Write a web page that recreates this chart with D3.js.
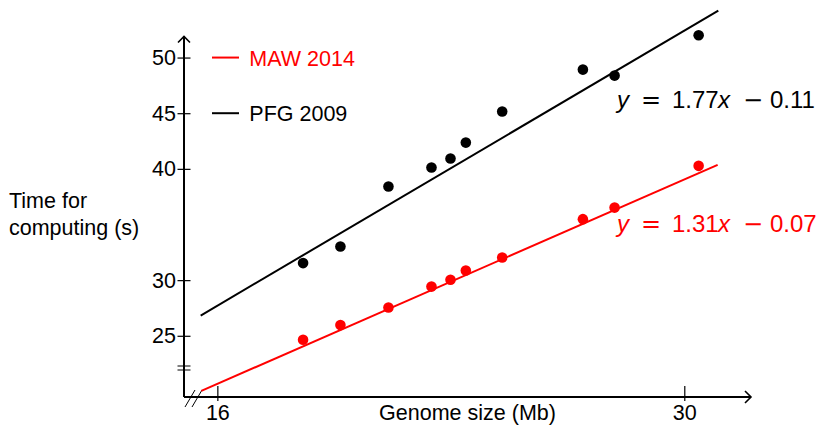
<!DOCTYPE html>
<html>
<head>
<meta charset="utf-8">
<script src="https://cdn.jsdelivr.net/npm/d3@7"></script>
<style>
  body { margin: 0; background: #fff; }
  svg text { font-family: "Liberation Sans", Arial, sans-serif; }
</style>
</head>
<body>
<svg id="chart" width="820" height="429"></svg>
<script>
// genome size (Mb) and computing time (s)
const genomeSize = [18.57, 19.69, 21.13, 22.42, 22.99, 23.45, 24.54, 26.96, 27.91, 30.43];
const pfg2009 = [31.53, 33.02, 38.41, 40.12, 40.93, 42.36, 45.15, 48.92, 48.38, 52.01];
const maw2014 = [24.64, 25.96, 27.54, 29.42, 30.03, 30.86, 32.03, 35.48, 36.52, 40.27];

// fitted lines (end points)
const pfgFit = [[15.5, 26.82], [31.02, 54.22]];
const mawFit = [[15.52, 20.05], [31.0, 40.36]];

const xTicks = [16, 30];
const yTicks = [25, 30, 40, 45, 50];

const seriesNames = ["MAW 2014", "PFG 2009"];
const seriesColors = ["#ff0000", "#000000"];
const equations = [
  ["y", "=", "1.31", "x", "\u2212", "0.07"],
  ["y", "=", "1.77", "x", "\u2212", "0.11"]
];

const svg = d3.select("#chart");
const x = d3.scaleLinear().domain([15, 32]).range([184, 751]);
const y = d3.scaleLinear().domain([19.5, 52]).range([397, 35.3]);
const fs = "21.5px";

// y axis ticks
const yAxis = svg.append("g")
    .attr("transform", "translate(" + x(15) + ",0)")
    .call(d3.axisLeft(y).tickValues(yTicks).tickSize(6.5).tickPadding(1.5));
yAxis.select(".domain").remove();
yAxis.selectAll(".tick line").attr("x1", 6.5).attr("x2", -6.5).attr("stroke-width", 1.2);
yAxis.selectAll(".tick text").style("font-size", fs).attr("fill", "#000");

// x axis ticks
const xAxis = svg.append("g")
    .attr("transform", "translate(0," + y(19.5) + ")")
    .call(d3.axisBottom(x).tickValues(xTicks).tickSize(5).tickPadding(2.7));
xAxis.select(".domain").remove();
xAxis.selectAll(".tick line").attr("y1", -11).attr("y2", 4).attr("stroke-width", 1.2);
xAxis.selectAll(".tick text").style("font-size", fs).attr("fill", "#000");

// axis lines with arrows
const x0 = x(15), y0 = y(19.5), xEnd = x(32), yTop = 36.5;
svg.append("line").attr("x1", x0).attr("y1", y0).attr("x2", xEnd).attr("y2", y0)
    .attr("stroke", "#000").attr("stroke-width", 2);
svg.append("line").attr("x1", x0).attr("y1", y0).attr("x2", x0).attr("y2", yTop)
    .attr("stroke", "#000").attr("stroke-width", 2);
svg.append("path")
    .attr("d", `M${xEnd - 6},${y0 - 6}L${xEnd},${y0}L${xEnd - 6},${y0 + 6}`)
    .attr("fill", "none").attr("stroke", "#000").attr("stroke-width", 1.6);
svg.append("path")
    .attr("d", `M${x0 - 6},${yTop + 6}L${x0},${yTop}L${x0 + 6},${yTop + 6}`)
    .attr("fill", "none").attr("stroke", "#000").attr("stroke-width", 1.6);

// axis breaks
[366, 370].forEach(v => {
  svg.append("line").attr("x1", x0 - 6.5).attr("x2", x0 + 6.5).attr("y1", v).attr("y2", v)
      .attr("stroke", "#000").attr("stroke-width", 1);
});
[0, 7].forEach(d => {
  svg.append("line").attr("x1", 185 + d).attr("y1", 407).attr("x2", 195 + d).attr("y2", 390)
      .attr("stroke", "#000").attr("stroke-width", 1);
});

// axis labels
svg.append("text")
    .attr("x", (x(15) + x(32)) / 2).attr("y", 420)
    .attr("text-anchor", "middle").style("font-size", fs)
    .text("Genome size (Mb)");
svg.append("text")
    .attr("x", 9).attr("y", 207.7)
    .attr("text-anchor", "start").style("font-size", fs)
    .text("Time for")
    .append("tspan").attr("x", 9).attr("dy", 27.3).text("computing (s)");

// fit lines
const line = d3.line().x(d => x(d[0])).y(d => y(d[1]));
[mawFit, pfgFit].forEach((f, i) => {
  svg.append("path").datum(f).attr("d", line)
      .attr("fill", "none").attr("stroke", seriesColors[i]).attr("stroke-width", 2);
});

// points
[maw2014, pfg2009].forEach((s, i) => {
  svg.append("g").selectAll("circle")
      .data(s.map((v, j) => [genomeSize[j], v]))
      .join("circle")
      .attr("cx", d => x(d[0])).attr("cy", d => y(d[1]))
      .attr("r", 5.3).attr("fill", seriesColors[i]);
});

// legend
seriesNames.forEach((name, i) => {
  const ly = y(50 - 5 * i);
  svg.append("line").attr("x1", 212).attr("x2", 239).attr("y1", ly).attr("y2", ly)
      .attr("stroke", seriesColors[i]).attr("stroke-width", 2);
  svg.append("text").attr("x", 249.3).attr("y", ly + 8)
      .style("font-size", fs).attr("fill", seriesColors[i]).text(name);
});

// equations
const eqOffsets = [0, 24, 55, 101, 126, 153];
const eqBase = [232.3, 108.3];
equations.forEach((eq, i) => {
  const t = svg.append("text").attr("y", eqBase[i]).style("font-size", "24px")
      .attr("fill", seriesColors[i]);
  eq.forEach((p, k) => {
    const op = (p === "=" || p === "\u2212");
    t.append("tspan").attr("x", 617 + eqOffsets[k])
        .style("font-style", (p === "x" || p === "y") ? "italic" : "normal")
        .style("font-family", op ? "'DejaVu Sans', sans-serif" : null)
        .text(p);
  });
});
</script>
</body>
</html>
